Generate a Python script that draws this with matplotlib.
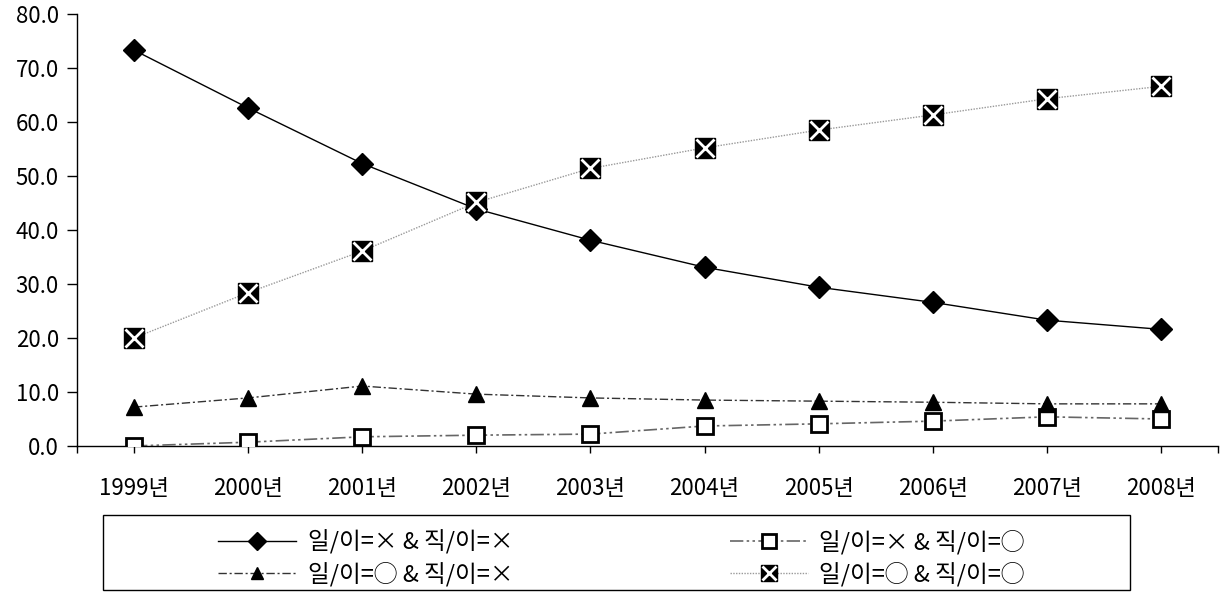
import numpy as np
import matplotlib.pyplot as plt
from matplotlib.patches import Rectangle
from matplotlib.legend_handler import HandlerTuple

plt.rcParams['font.family'] = ['Noto Sans CJK KR', 'DejaVu Sans']

### data
years = ['1999년', '2000년', '2001년', '2002년', '2003년',
         '2004년', '2005년', '2006년', '2007년', '2008년']
s_xx = [73.3, 62.6, 52.3, 43.9, 38.1, 33.1, 29.4, 26.6, 23.3, 21.6]
s_xo = [0.0, 0.7, 1.7, 2.0, 2.2, 3.7, 4.1, 4.6, 5.4, 5.0]
s_ox = [7.2, 8.9, 11.1, 9.6, 8.9, 8.5, 8.3, 8.1, 7.8, 7.8]
s_oo = [20.0, 28.4, 36.1, 45.1, 51.4, 55.2, 58.5, 61.3, 64.3, 66.6]

lab_xx = '일/이=× & 직/이=×'
lab_xo = '일/이=× & 직/이=◯'
lab_ox = '일/이=◯ & 직/이=×'
lab_oo = '일/이=◯ & 직/이=◯'

x = np.arange(len(years))

fig = plt.figure(figsize=(12.3, 6), dpi=100)
ax = fig.add_axes([0.0626, 0.2567, 0.9276, 0.72])

## lines
l1, = ax.plot(x, s_xx, color='black', lw=1, marker='D', ms=11,
              mfc='black', mec='black', zorder=4)
l2, = ax.plot(x, s_xo, color='#666666', lw=1.2, ls=(0, (8, 2, 1.5, 2, 1.5, 2)),
              marker='s', ms=12, mfc='white', mec='black', mew=2, zorder=3)
l3, = ax.plot(x, s_ox, color='#333333', lw=1, ls=(0, (6, 2, 1.5, 2)),
              marker='^', ms=11, mfc='black', mec='black', zorder=3)
l4, = ax.plot(x, s_oo, color='#999999', lw=1, ls=(0, (1, 1)),
              marker='s', ms=14, mfc='black', mec='black', zorder=5)
l4x, = ax.plot(x, s_oo, ls='none', marker='x', ms=13, mec='white',
               mew=2, zorder=6)

## axes
ax.set_ylim(0, 80)
ax.set_yticks(np.arange(0, 81, 10))
ax.set_yticklabels(['%.1f' % v for v in np.arange(0, 81, 10)])
ax.set_xlim(-0.5, len(years) - 0.5)
ax.set_xticks(x)
ax.set_xticklabels(years)
ax.set_xticks([-0.5, len(years) - 0.5], minor=True)
ax.tick_params(axis='both', which='both', labelsize=16, width=1, color='black')
ax.tick_params(axis='x', which='both', length=5, pad=17)
ax.tick_params(axis='y', length=7, pad=6)
ax.spines['top'].set_visible(False)
ax.spines['right'].set_visible(False)
ax.spines['left'].set_linewidth(1)
ax.spines['bottom'].set_linewidth(1)

## legend
leg = fig.legend([l1, l3, l2, (l4, l4x)], [lab_xx, lab_ox, lab_xo, lab_oo],
                 handler_map={tuple: HandlerTuple(ndivide=1, pad=0)},
                 ncol=2, loc='lower left',
                 bbox_to_anchor=(0.1772, 0.0233, 0.656, 0.11),
                 mode='expand', fontsize=17, handlelength=3.3, markerscale=0.8,
                 frameon=False, borderaxespad=0, labelspacing=0.3, borderpad=0,
                 handletextpad=0.5)
fig.patches.append(Rectangle((103 / 1230, 10 / 600), 1027 / 1230, 75 / 600,
                             transform=fig.transFigure, fill=False,
                             edgecolor='black', lw=1))

plt.savefig('out.png', dpi=100)
